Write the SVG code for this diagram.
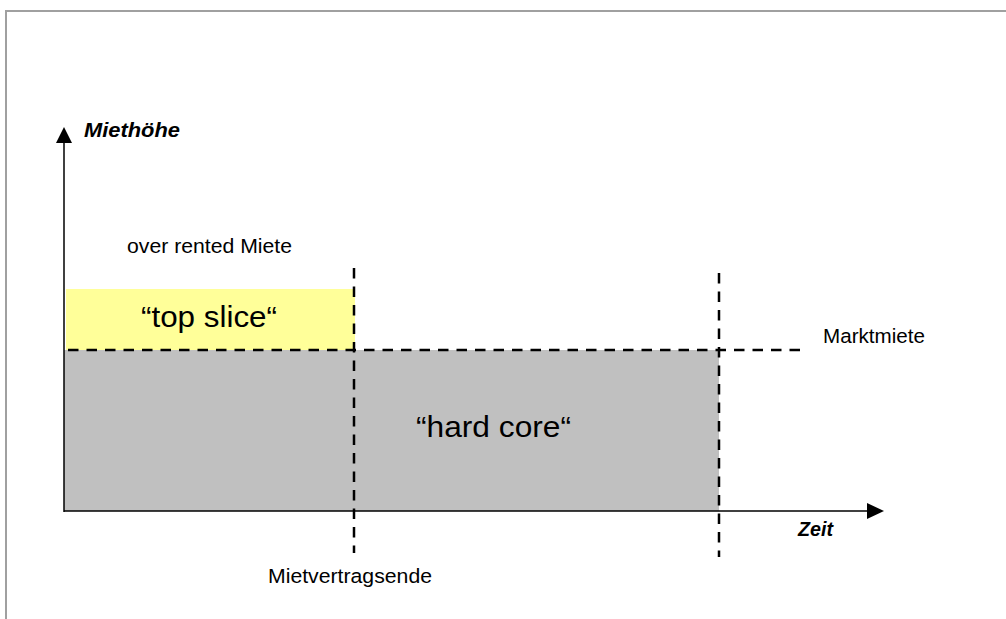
<svg xmlns="http://www.w3.org/2000/svg" width="1006" height="619" viewBox="0 0 1006 619">
  <defs>
    <style>
      .frame { fill: none; stroke: #a0a0a0; stroke-width: 2; }
      .axis { stroke: #000; stroke-width: 1.5; fill: none; }
      .dash { stroke: #000; stroke-width: 2.5; stroke-dasharray: 10.5 8; fill: none; }
      .lbl { font-family: "Liberation Sans", Arial, sans-serif; font-size: 20.5px; fill: #000; }
      .ax { font-family: "Liberation Sans", Arial, sans-serif; font-size: 20.5px; font-weight: bold; font-style: italic; fill: #000; }
      .big { font-family: "Liberation Sans", Arial, sans-serif; font-size: 29px; fill: #000; }
    </style>
  </defs>
  <rect width="1006" height="619" fill="#fff"/>
  <!-- page frame -->
  <path class="frame" d="M6 619 V11 H1006"/>

  <!-- areas -->
  <g id="hard-core">
    <rect x="64" y="350" width="655" height="161" fill="#c0c0c0"/>
    <text class="big" x="416" y="437" textLength="155" lengthAdjust="spacingAndGlyphs">“hard core“</text>
  </g>
  <g id="top-slice">
    <rect x="66" y="289" width="289" height="61" fill="#ffff99"/>
    <text class="big" x="141" y="327" textLength="136" lengthAdjust="spacingAndGlyphs">“top slice“</text>
  </g>

  <!-- axes and reference lines -->
  <g id="connectors">
    <line class="axis" x1="64" y1="512" x2="64" y2="140"/>
    <polygon points="64,127 56,143 72,143" fill="#000"/>
    <line class="axis" x1="64" y1="511" x2="870" y2="511"/>
    <polygon points="884,511 867,503 867,519" fill="#000"/>
    <line class="dash" x1="68" y1="350" x2="803" y2="350"/>
    <line class="dash" x1="354" y1="268" x2="354" y2="553"/>
    <line class="dash" x1="719" y1="273" x2="719" y2="557"/>
  </g>

  <g id="labels">
    <text class="ax" x="84" y="137" textLength="96" lengthAdjust="spacingAndGlyphs">Miethöhe</text>
    <text class="lbl" x="127" y="253" textLength="165" lengthAdjust="spacingAndGlyphs">over rented Miete</text>
    <text class="lbl" x="823" y="343" textLength="102" lengthAdjust="spacingAndGlyphs">Marktmiete</text>
    <text class="ax" x="798" y="536" textLength="35" lengthAdjust="spacingAndGlyphs">Zeit</text>
    <text class="lbl" x="268" y="583" textLength="164" lengthAdjust="spacingAndGlyphs">Mietvertragsende</text>
  </g>
</svg>
